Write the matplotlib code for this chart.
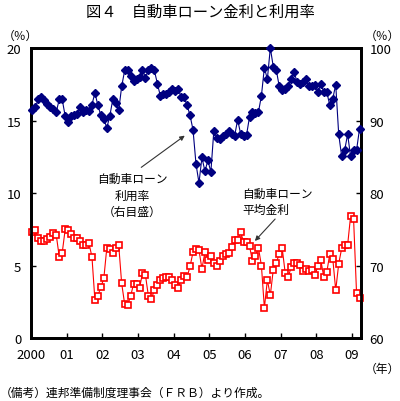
import matplotlib
matplotlib.use("Agg")
import matplotlib.pyplot as plt

plt.rcParams['font.family'] = ['Noto Sans CJK JP', 'DejaVu Sans']

# monthly data, Jan 2000 - Mar 2009
year_labels = ['2000', '01', '02', '03', '04', '05', '06', '07', '08', '09']

# auto loan average rate (%), left axis
loan_rate = [
    7.30, 7.44, 6.89, 6.68, 6.68, 6.80, 6.98, 7.26, 7.10, 5.60,
    5.88, 7.49, 7.42, 7.14, 6.89, 6.89, 6.68, 6.41, 6.41, 6.52,
    5.60, 2.60, 2.93, 3.50, 4.12, 6.22, 6.11, 5.88, 6.24, 6.41,
    3.76, 2.35, 2.26, 2.88, 3.73, 3.73, 3.46, 4.45, 4.33, 2.88,
    2.72, 3.29, 3.64, 3.99, 4.15, 4.22, 4.22, 4.03, 3.69, 3.46,
    4.03, 4.26, 4.19, 4.95, 5.92, 6.11, 6.06, 4.77, 5.92, 5.41,
    5.69, 5.18, 4.95, 5.30, 5.69, 5.76, 5.88, 6.29, 6.75, 6.75,
    7.30, 6.64, 6.64, 6.34, 5.30, 5.65, 6.22, 5.00, 2.07, 3.99,
    2.95, 4.72, 5.18, 5.81, 6.18, 4.49, 4.19, 4.88, 5.18, 5.18,
    5.02, 4.61, 4.79, 4.61, 4.68, 4.33, 4.95, 5.35, 4.19, 4.54,
    5.81, 5.48, 3.29, 5.12, 6.18, 6.41, 6.41, 8.41, 8.23, 3.11,
    2.74,
]

# auto loan utilization rate (%), right axis
utilization = [
    91.4, 91.8, 93.0, 93.2, 92.8, 92.3, 91.8, 91.6, 91.2, 92.9,
    92.9, 90.6, 89.8, 90.6, 90.7, 90.9, 91.8, 91.2, 91.4, 91.3,
    92.2, 93.8, 92.1, 90.7, 90.2, 89.0, 90.6, 92.9, 92.4, 91.4,
    94.7, 96.9, 97.0, 96.2, 95.4, 95.7, 96.0, 97.0, 95.9, 97.0,
    97.3, 96.9, 95.1, 93.4, 93.7, 93.6, 93.9, 94.4, 94.1, 94.4,
    93.2, 93.2, 92.1, 90.7, 88.7, 84.0, 81.4, 84.9, 83.0, 84.5,
    82.9, 88.6, 87.6, 87.4, 87.8, 88.2, 88.6, 88.2, 87.9, 90.1,
    88.2, 87.8, 88.0, 90.5, 91.15, 91.0, 91.15, 93.4, 97.3, 95.7,
    100.0, 97.4, 97.0, 94.7, 94.2, 94.4, 94.7, 95.7, 96.7, 95.3,
    95.05, 95.3, 95.7, 94.7, 94.7, 94.95, 93.9, 95.05, 93.9, 93.9,
    92.1, 93.0, 94.95, 88.1, 85.05, 85.9, 88.1, 85.05, 85.9, 85.9,
    88.85,
]

x = [m + 0.5 for m in range(len(loan_rate))]

fig = plt.figure(figsize=(4.0, 4.02), dpi=100)
ax = fig.add_axes([0.0775, 0.1567, 0.825, 0.7214])
ax2 = ax.twinx()

ax.plot(x, loan_rate, color='#ff0000', lw=0.8, marker='s', ms=4.8,
        mfc='white', mec='#ff0000', mew=1.2, clip_on=False, zorder=3)
ax2.plot(x, utilization, color='#000080', lw=0.8, marker='D', ms=4.2,
         mfc='#000080', mec='#000080', clip_on=False, zorder=3)

ax.set_xlim(0, len(loan_rate))
ax.set_ylim(0, 20)
ax2.set_ylim(60, 100)
ax.set_xticks(range(0, 12 * len(year_labels), 12))
ax.set_xticklabels(year_labels)
ax.set_yticks([0, 5, 10, 15, 20])
ax2.set_yticks([60, 70, 80, 90, 100])

ax.tick_params(axis='x', direction='in', length=3.5, width=1, pad=7, labelsize=9.5)
ax.tick_params(axis='y', direction='in', length=3.5, width=1, pad=7, labelsize=9.5)
ax2.tick_params(axis='y', direction='in', length=3.5, width=1, pad=6, labelsize=9.5)

for a in (ax, ax2):
    for s in a.spines.values():
        s.set_linewidth(2)
        s.set_color('black')

fig.text(0.5, 1 - 12 / 402, '図４　自動車ローン金利と利用率', ha='center', va='center', fontsize=11)
fig.text(3 / 400, 1 - 36 / 402, '（％）', ha='left', va='center', fontsize=8.5)
fig.text(1.0, 1 - 36 / 402, '（％）', ha='right', va='center', fontsize=8.5)
fig.text(1.0, 1 - 369 / 402, '（年）', ha='right', va='center', fontsize=8.5)
fig.text(0.0, 1 - 393 / 402, '（備考）連邦準備制度理事会（ＦＲＢ）より作成。',
         ha='left', va='center', fontsize=8.5)

# annotations
for txt, yy in [('自動車ローン', 179), ('利用率', 196), ('（右目盛）', 212)]:
    fig.text(132 / 400, 1 - yy / 402, txt, ha='center', va='center', fontsize=8.5)
for txt, yy in [('自動車ローン', 194), ('平均金利', 210)]:
    fig.text(242 / 400, 1 - yy / 402, txt, ha='left', va='center', fontsize=8.5)

arrow = dict(arrowstyle='-|>', color='#333333', lw=0.8, mutation_scale=7)
ax.annotate('', xy=(187, 402 - 135), xytext=(139, 402 - 170),
            xycoords='figure pixels', textcoords='figure pixels', arrowprops=arrow)
ax.annotate('', xy=(253, 402 - 244), xytext=(277, 402 - 218),
            xycoords='figure pixels', textcoords='figure pixels', arrowprops=arrow)

fig.savefig('out.png', dpi=100)
